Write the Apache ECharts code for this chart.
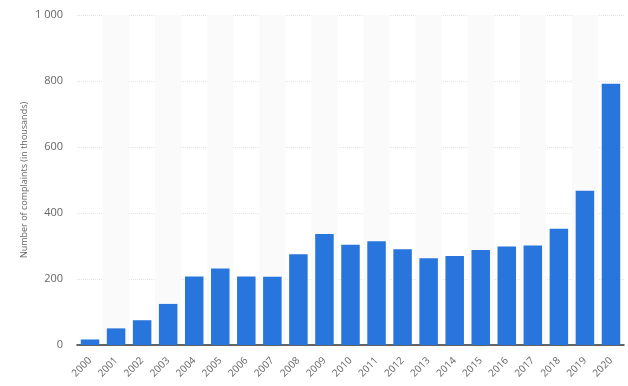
<!DOCTYPE html>
<html>
<head>
<meta charset="utf-8">
<script src="https://cdn.jsdelivr.net/npm/echarts@6/dist/echarts.min.js"></script>
<style>html,body{margin:0;padding:0;background:#fff}#c{width:628px;height:386px}</style>
</head>
<body>
<div id="c"></div>
<script>
const categories = ['2000','2001','2002','2003','2004','2005','2006','2007','2008','2009','2010','2011','2012','2013','2014','2015','2016','2017','2018','2019','2020'];
const complaints = [16.8, 50.4, 75.1, 124.5, 207.4, 231.5, 207.5, 206.9, 275.3, 336.7, 303.8, 314.2, 289.9, 262.8, 269.4, 288.0, 298.7, 301.6, 351.9, 467.4, 791.8];
const yTicks = {min: 0, max: 1000, interval: 200};
const yAxisTitle = 'Number of complaints (in thousands)';

const chart = echarts.init(document.getElementById('c'), null, {renderer: 'canvas'});
chart.setOption({
  animation: false,
  grid: {left: 77, right: 4, top: 15, bottom: 41},
  xAxis: {
    type: 'category',
    data: categories,
    axisLine: {lineStyle: {color: '#333', width: 1.5}},
    axisTick: {show: false},
    axisLabel: {rotate: 45, color: '#666', fontSize: 10, fontFamily: 'Open Sans', margin: 14, interval: 0},
    splitArea: {show: true, areaStyle: {color: ['rgba(255,255,255,0)', '#fafafa']}}
  },
  yAxis: {
    type: 'value',
    min: yTicks.min, max: yTicks.max, interval: yTicks.interval,
    name: yAxisTitle,
    nameLocation: 'middle',
    nameGap: 48,
    nameMoveOverlap: false,
    nameTextStyle: {color: '#666', fontSize: 9, fontFamily: 'Open Sans'},
    axisLine: {show: false},
    axisTick: {show: false},
    axisLabel: {color: '#666', fontSize: 11, fontFamily: 'Open Sans', margin: 14,
      formatter: v => v >= 1000 ? String(v).replace(/\B(?=(\d{3})+(?!\d))/g, ' ') : String(v)},
    splitLine: {lineStyle: {color: '#e4e4e4', type: 'dotted'}}
  },
  series: [{
    type: 'bar',
    data: complaints,
    barCategoryGap: '29%',
    itemStyle: {color: '#2876dd'}
  }]
});
</script>
</body>
</html>
